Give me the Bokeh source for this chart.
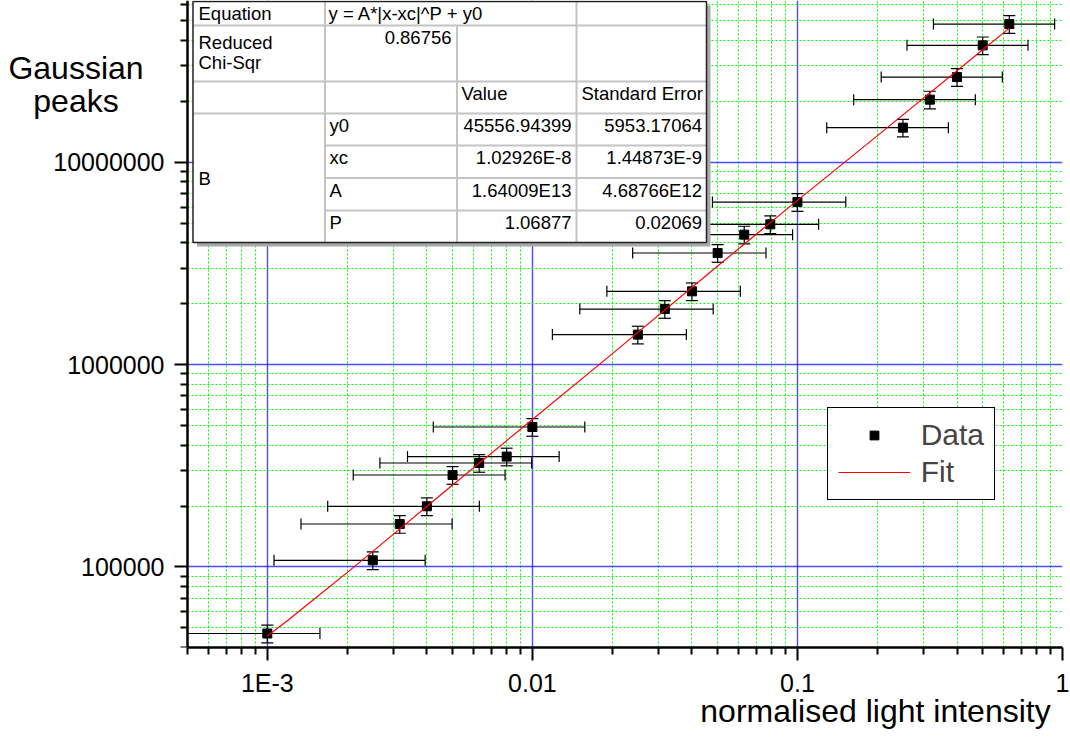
import math
from bokeh.plotting import figure
from bokeh.models import (ColumnDataSource, FixedTicker, CustomJSTickFormatter, Label,
                          BoxAnnotation, Legend, LegendItem, Range1d)
from bokeh.embed import file_html
from bokeh.resources import INLINE

# ---------------- data ----------------
intensity = [0.001, 0.0025, 0.00316, 0.004, 0.005, 0.0063, 0.008, 0.01,
             0.025, 0.0316, 0.04, 0.05, 0.063, 0.079, 0.1,
             0.25, 0.316, 0.4, 0.5, 0.63]
peaks = [46900, 107900, 163100, 199500, 284800, 326400, 351200, 491700,
         1406700, 1882000, 2302000, 3560000, 4388000, 4934000, 6360000,
         14820000, 20390000, 26360000, 37810000, 48180000]
intensity_err = [0.00058, 0.00144, 0.00182, 0.00231, 0.00289, 0.00364, 0.00462, 0.00577,
                 0.0131, 0.0165, 0.0209, 0.0261, 0.0329, 0.0412, 0.0522,
                 0.121, 0.153, 0.193, 0.241, 0.304]
peaks_err = [4700, 10800, 16300, 20000, 28500, 32600, 35100, 49200,
             141000, 188000, 230000, 356000, 439000, 493000, 636000,
             1480000, 2040000, 2640000, 3780000, 4820000]

fit_x = [0.001, 0.0012, 0.0015, 0.002, 0.0025, 0.005, 0.01, 0.02, 0.05, 0.1, 0.2, 0.5, 0.63]
fit_y = [45600, 54700, 69200, 93800, 119400, 254000, 535000, 1130000, 3070000,
         6480000, 13500000, 36000000, 46000000]

x_tick_values = [0.001, 0.01, 0.1, 1]
x_tick_labels = ["1E-3", "0.01", "0.1", "1"]
y_tick_values = [1e5, 1e6, 1e7]
y_tick_labels = ["100000", "1000000", "10000000"]

table_params = ["y0", "xc", "A", "P"]
table_values = ["45556.94399", "1.02926E-8", "1.64009E13", "1.06877"]
table_errors = ["5953.17064", "1.44873E-9", "4.68766E12", "0.02069"]
equation_text = "y = A*|x-xc|^P + y0"
chi_sqr_text = "0.86756"

X_MIN, X_MAX = 5e-4, 1.0
Y_MIN, Y_MAX = 4e4, 6.3e7

FONT = "Liberation Sans"

# ---------------- geometry ----------------
W, H = 1070, 738
AXIS_X = 187          # page x of the y axis
FRAME_R = 8           # right border
FRAME_B = 91          # bottom border
FW = W - FRAME_R      # frame spans x = 0 .. FW (left part masked, holds the y-axis labels)
FB = H - FRAME_B      # frame bottom (page y)
# extend the x range to the left so that X_MIN falls at AXIS_X
a = math.log10(X_MIN) / (1 - AXIS_X / FW)
x_start = 10 ** a

p = figure(width=W, height=H, x_axis_type="log", y_axis_type="log",
           x_range=Range1d(x_start, X_MAX), y_range=Range1d(Y_MIN, Y_MAX),
           output_backend="svg", toolbar_location=None,
           min_border_left=0, min_border_right=FRAME_R, min_border_top=0,
           min_border_bottom=FRAME_B, title_location=None)
p.outline_line_color = None
p.background_fill_color = "white"
p.border_fill_color = "white"

x_minor = [m * 10.0 ** d for d in range(-4, 0) for m in range(2, 10) if m * 10.0 ** d >= X_MIN * 0.999]
y_minor = [m * 10.0 ** d for d in range(4, 8) for m in range(2, 10)]
xt = FixedTicker(ticks=x_tick_values, minor_ticks=x_minor)
yt = FixedTicker(ticks=y_tick_values, minor_ticks=y_minor)
p.xaxis.ticker = xt
p.yaxis.ticker = yt
p.xgrid.ticker = xt
p.ygrid.ticker = yt

p.xaxis.bounds = (X_MIN, X_MAX)
p.yaxis.fixed_location = X_MIN
p.xgrid.bounds = (X_MIN, X_MAX)
if "cross_bounds" in p.ygrid[0].properties():
    p.ygrid.cross_bounds = (X_MIN, X_MAX)

fmt_code = """
for (let i = 0; i < vals.length; i++) {
  if (Math.abs(tick / vals[i] - 1) < 1e-6) return labs[i];
}
return "";
"""
p.xaxis.formatter = CustomJSTickFormatter(args=dict(vals=x_tick_values, labs=x_tick_labels), code=fmt_code)
p.yaxis.formatter = CustomJSTickFormatter(args=dict(vals=y_tick_values, labs=y_tick_labels), code=fmt_code)

for ax in (p.xaxis[0], p.yaxis[0]):
    ax.axis_line_color = "black"
    ax.axis_line_width = 2.5
    ax.major_tick_out = 13
    ax.major_tick_in = 0
    ax.minor_tick_out = 7
    ax.minor_tick_in = 0
    ax.major_tick_line_width = 2
    ax.minor_tick_line_width = 2
    ax.major_tick_line_color = "black"
    ax.minor_tick_line_color = "black"
    ax.major_label_text_font = FONT
    ax.major_label_text_font_size = "25px"
    ax.major_label_text_color = "black"
p.xaxis.major_label_standoff = 8
p.yaxis.major_label_standoff = 10

for g in (p.xgrid[0], p.ygrid[0]):
    g.grid_line_color = "#0000ff"
    g.grid_line_alpha = 0.7
    g.grid_line_width = 1.4
    g.minor_grid_line_color = "#00ff00"
    g.minor_grid_line_alpha = 1.0
    g.minor_grid_line_width = 1
    g.minor_grid_line_dash = "2 2"

# ---------------- data glyphs ----------------
src = ColumnDataSource(dict(
    x=intensity, y=peaks,
    xl=[max(x - e, X_MIN) for x, e in zip(intensity, intensity_err)],
    xh=[x + e for x, e in zip(intensity, intensity_err)],
    yl=[y - e for y, e in zip(peaks, peaks_err)],
    yh=[y + e for y, e in zip(peaks, peaks_err)],
))
# caps only where the bar end lies inside the axes
cap_l = [i for i, (x, e) in enumerate(zip(intensity, intensity_err)) if x - e >= X_MIN]

p.segment(x0="xl", y0="y", x1="xh", y1="y", source=src, line_color="black", line_width=1.2)
p.segment(x0="x", y0="yl", x1="x", y1="yh", source=src, line_color="black", line_width=1.2)
capsrc = ColumnDataSource(dict(xl=[src.data["xl"][i] for i in cap_l], y=[peaks[i] for i in cap_l]))
p.scatter(x="xl", y="y", source=capsrc, marker="dash", angle=math.pi / 2, size=11,
          line_color="black", line_width=1.2)
p.scatter(x="xh", y="y", source=src, marker="dash", angle=math.pi / 2, size=11,
          line_color="black", line_width=1.2)
for col in ("yl", "yh"):
    p.scatter(x="x", y=col, source=src, marker="dash", size=12,
              line_color="black", line_width=1.2)

data_r = p.scatter(x="x", y="y", source=src, marker="square", size=9,
                   fill_color="black", line_color="black")
fit_r = p.line(fit_x, fit_y, line_color="red", line_width=1.2)

# white mask over the part of the frame left of the y axis (hides grid lines there)
p.add_layout(BoxAnnotation(left=0, right=AXIS_X - 1, top=FB, bottom=0,
                           left_units="screen", right_units="screen",
                           top_units="screen", bottom_units="screen",
                           fill_color="white", fill_alpha=1.0, line_alpha=0.0, level="glyph"))

legend = Legend(items=[LegendItem(label="Data", renderers=[data_r]),
                       LegendItem(label="Fit", renderers=[fit_r])],
                location=(826.7, FB - 500), orientation="vertical",
                border_line_color="black", border_line_width=1.5, border_line_alpha=1.0,
                background_fill_color="white", background_fill_alpha=1.0,
                label_text_font=FONT, label_text_font_size="30px",
                glyph_width=72, glyph_height=22, label_standoff=11,
                padding=10, spacing=3, margin=0)
p.add_layout(legend)

# ---------------- fit-result table (screen-unit annotations) ----------------
def sbox(x0, y0, x1, y1, fill=None, line=None, lw=1.0):
    p.add_layout(BoxAnnotation(left=x0, right=x1, top=FB - y0, bottom=FB - y1,
                               left_units="screen", right_units="screen",
                               top_units="screen", bottom_units="screen",
                               fill_color=fill if fill else "white",
                               fill_alpha=1.0 if fill else 0.0,
                               line_color=line, line_width=lw,
                               line_alpha=1.0 if line else 0.0))

def slabel(x, base, text, align="left", fs=18.5):
    # base = page y of the text baseline
    p.add_layout(Label(x=x, y=FB - (base - 0.36 * fs), x_units="screen", y_units="screen",
                       text=text, text_align=align, text_baseline="alphabetic",
                       text_font=FONT, text_font_size=f"{fs}px", text_color="black"))

TL, TR, TT, TB = 192.5, 706, 1, 242
C1, C2, C3 = 324.5, 456.5, 576
R1, R2, R3, R4, R5, R6 = 25, 81, 113, 145, 177.5, 210
GREY = "#c4c4c4"

sbox(TL + 4, TT + 4, TR + 4, TB + 4, fill="#a8a8a8")
sbox(TL, TT, TR, TB, fill="white")
sbox(C1 - 1, TT, C1 + 1, TB, fill=GREY)
sbox(C2 - 1, R1, C2 + 1, TB, fill=GREY)
sbox(C3 - 1, TT, C3 + 1, TB, fill=GREY)
for r in (R1, R2, R3):
    sbox(TL, r - 1, TR, r + 1, fill=GREY)
for r in (R4, R5, R6):
    sbox(C1, r - 1, TR, r + 1, fill=GREY)
sbox(TL, TT, TR, TB, line="#202020", lw=1.5)

slabel(198, 20, "Equation")
slabel(328, 20, equation_text)
slabel(198, 48.3, "Reduced")
slabel(198, 68.3, "Chi-Sqr")
slabel(451, 44, chi_sqr_text, align="right")
slabel(461, 99.3, "Value")
slabel(581, 99.3, "Standard Error")
slabel(198, 185, "B")
for i, base in enumerate([131.7, 164, 196.7, 228.3]):
    slabel(329, base, table_params[i])
    slabel(571, base, table_values[i], align="right")
    slabel(701.5, base, table_errors[i], align="right")

# ---------------- axis titles ----------------
slabel(75.5, 79.3, "Gaussian", align="center", fs=32)
slabel(75.5, 111.7, "peaks", align="center", fs=32)
# x title lives in the panel below the x axis (not clipped there)
p.add_layout(Label(x=875, y=734.5 - (722 - 0.36 * 32), x_units="screen", y_units="screen",
                   text="normalised light intensity", text_align="center",
                   text_baseline="alphabetic",
                   text_font=FONT, text_font_size="32px", text_color="black"), "below")

open("out.html", "w").write(file_html(p, INLINE))
